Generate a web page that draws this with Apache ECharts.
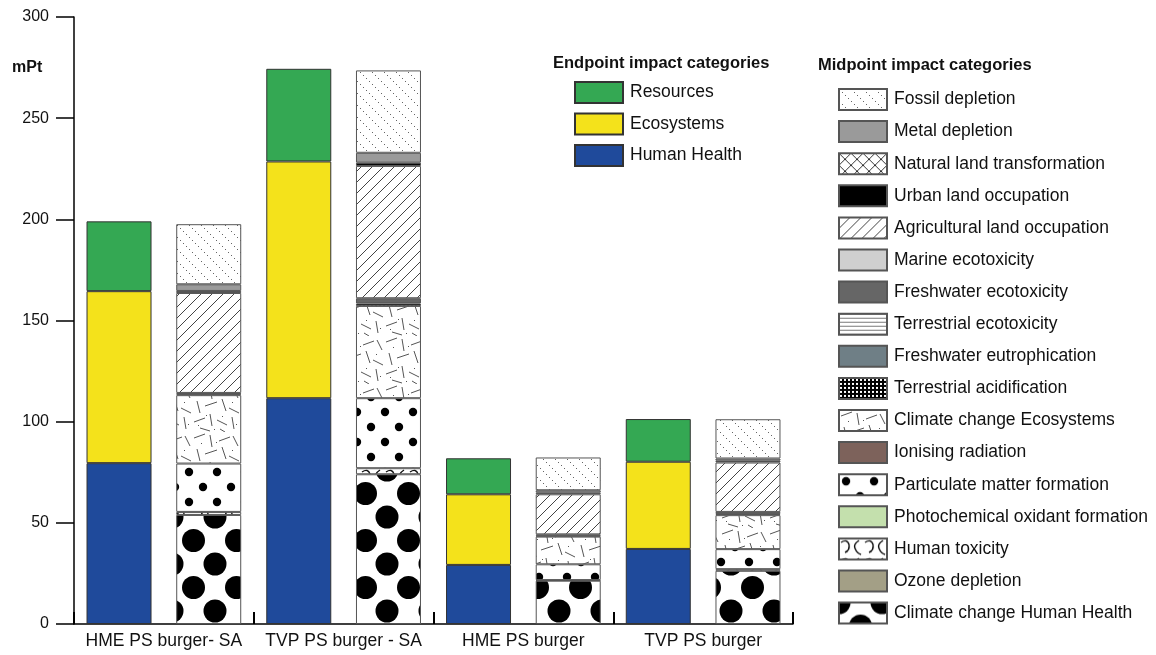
<!DOCTYPE html>
<html>
<head>
<meta charset="utf-8">
<title>Endpoint and midpoint impacts</title>
<script src="https://cdn.jsdelivr.net/npm/echarts@6/dist/echarts.min.js"></script>
<style>
  html, body { margin: 0; padding: 0; background: #fff; }
  #chart { width: 1156px; height: 655px; }
</style>
</head>
<body>
<div id="chart"></div>
<script>
// ---- data (mPt) ----
const categories = ['HME PS burger- SA', 'TVP PS burger - SA', 'HME PS burger', 'TVP PS burger'];
const yTicks = { min: 0, max: 300, interval: 50 };

// endpoint impact categories
const humanHealth = [79.5, 111.6, 29.2, 37.1];
const ecosystems  = [85.0, 117.0, 34.9, 43.1];
const resources   = [34.5, 45.8, 17.8, 21.1];

// midpoint impact categories
const fossilDepletion               = [29.7, 40.7, 16.2, 19.4];
const metalDepletion                = [3.3, 4.9, 1.2, 1.1];
const naturalLandTransformation     = [0, 0, 0, 0];
const urbanLandOccupation           = [1.0, 1.6, 0.8, 0.9];
const agriculturalLandOccupation    = [49.4, 65.4, 19.8, 24.4];
const marineEcotoxicity             = [0, 0, 0, 0];
const freshwaterEcotoxicity         = [0.6, 2.6, 0.7, 1.0];
const terrestrialEcotoxicity        = [0, 0, 0, 0];
const freshwaterEutrophication      = [0, 0, 0, 0];
const terrestrialAcidification      = [0.5, 1.2, 0.4, 0.6];
const climateChangeEcosystems       = [33.8, 45.6, 13.7, 16.8];
const ionisingRadiation             = [0, 0, 0, 0];
const particulateMatterFormation    = [23.9, 34.6, 7.8, 9.9];
const photochemicalOxidantFormation = [0, 0, 0, 0];
const humanToxicity                 = [1.5, 3.0, 0.3, 0.8];
const ozoneDepletion                = [0, 0, 0, 0];
const climateChangeHumanHealth      = [53.9, 74.0, 21.4, 26.3];

// ---- fill patterns ----
function tile(w, h, draw, bg) {
  const c = document.createElement('canvas');
  c.width = w; c.height = h;
  const ctx = c.getContext('2d');
  ctx.fillStyle = bg || '#fff';
  ctx.fillRect(0, 0, w, h);
  draw(ctx, w, h);
  return { image: c, repeat: 'repeat' };
}
function line(ctx, x1, y1, x2, y2) {
  ctx.beginPath(); ctx.moveTo(x1, y1); ctx.lineTo(x2, y2); ctx.stroke();
}
function disc(ctx, x, y, r, w, h) {
  // draw a disc wrapped across tile edges
  for (const dx of [-w, 0, w]) for (const dy of [-h, 0, h]) {
    ctx.beginPath(); ctx.arc(x + dx, y + dy, r, 0, Math.PI * 2); ctx.fill();
  }
}

const fills = {
  fossil: tile(12, 12, (ctx) => {
    ctx.fillStyle = '#666';
    for (let i = 0; i < 12; i += 3) ctx.fillRect(i, i, 1, 1);
  }),
  metal: '#9a9a9a',
  natural: tile(12, 12, (ctx) => {
    ctx.strokeStyle = '#333'; ctx.lineWidth = 1;
    line(ctx, 0, 0, 12, 12); line(ctx, 0, 12, 12, 0);
  }),
  urban: '#000',
  agri: tile(11, 11, (ctx) => {
    ctx.strokeStyle = '#444'; ctx.lineWidth = 1;
    line(ctx, -1, 12, 12, -1); line(ctx, -1, 1, 1, -1); line(ctx, 10, 12, 12, 10);
  }),
  marine: '#cfcfcf',
  freshEco: '#666',
  terrEco: tile(6, 4, (ctx) => {
    ctx.fillStyle = '#777'; ctx.fillRect(0, 0, 6, 1);
  }),
  freshEutro: '#6f7f86',
  terrAcid: tile(4, 4, (ctx) => {
    ctx.fillStyle = '#fff'; ctx.fillRect(1, 1, 2, 2);
  }, '#000'),
  ccEco: tile(48, 48, (ctx) => {
    ctx.strokeStyle = '#555'; ctx.lineWidth = 1;
    const strokes = [
      [2, 6, 13, 2], [18, 3, 20, 15], [27, 9, 38, 5], [41, 4, 46, 14],
      [5, 17, 8, 29], [13, 22, 25, 18], [30, 15, 34, 27], [37, 24, 47, 29],
      [2, 38, 13, 34], [18, 30, 20, 42], [25, 36, 35, 41], [40, 33, 42, 45],
      [8, 44, 18, 47], [28, 45, 33, 48]
    ];
    strokes.forEach(s => line(ctx, s[0], s[1], s[2], s[3]));
    ctx.fillStyle = '#555';
    [[9, 11], [24, 10], [40, 18], [14, 31], [30, 32], [6, 41], [22, 45], [44, 40]]
      .forEach(p => ctx.fillRect(p[0], p[1], 1, 1));
  }),
  ionising: '#7d625b',
  pm: tile(28, 30, (ctx, w, h) => {
    ctx.fillStyle = '#000';
    disc(ctx, 7, 7, 4.2, w, h);
    disc(ctx, 21, 22, 4.2, w, h);
  }),
  photo: '#c4e0ad',
  humanTox: tile(24, 18, (ctx) => {
    ctx.strokeStyle = '#111'; ctx.lineWidth = 1.4;
    ctx.beginPath(); ctx.moveTo(2, 4); ctx.quadraticCurveTo(8, 0, 10, 6); ctx.quadraticCurveTo(11, 12, 6, 14); ctx.stroke();
    ctx.beginPath(); ctx.moveTo(20, 2); ctx.quadraticCurveTo(14, 6, 16, 10); ctx.quadraticCurveTo(18, 15, 22, 16); ctx.stroke();
  }),
  ozone: '#a39f86',
  ccHH: tile(43, 47, (ctx, w, h) => {
    ctx.fillStyle = '#000';
    disc(ctx, 0, 0, 11.5, w, h);
    disc(ctx, 21.5, 23.5, 11.5, w, h);
  })
};

// midpoint categories listed top to bottom as in the key
const midpoint = [
  ['Fossil depletion', fossilDepletion, fills.fossil],
  ['Metal depletion', metalDepletion, fills.metal],
  ['Natural land transformation', naturalLandTransformation, fills.natural],
  ['Urban land occupation', urbanLandOccupation, fills.urban],
  ['Agricultural land occupation', agriculturalLandOccupation, fills.agri],
  ['Marine ecotoxicity', marineEcotoxicity, fills.marine],
  ['Freshwater ecotoxicity', freshwaterEcotoxicity, fills.freshEco],
  ['Terrestrial ecotoxicity', terrestrialEcotoxicity, fills.terrEco],
  ['Freshwater eutrophication', freshwaterEutrophication, fills.freshEutro],
  ['Terrestrial acidification', terrestrialAcidification, fills.terrAcid],
  ['Climate change Ecosystems', climateChangeEcosystems, fills.ccEco],
  ['Ionising radiation', ionisingRadiation, fills.ionising],
  ['Particulate matter formation', particulateMatterFormation, fills.pm],
  ['Photochemical oxidant formation', photochemicalOxidantFormation, fills.photo],
  ['Human toxicity', humanToxicity, fills.humanTox],
  ['Ozone depletion', ozoneDepletion, fills.ozone],
  ['Climate change Human Health', climateChangeHumanHealth, fills.ccHH]
];

// endpoint categories listed top to bottom as in the key
const endpoint = [
  ['Resources', resources, '#34a853'],
  ['Ecosystems', ecosystems, '#f4e21b'],
  ['Human Health', humanHealth, '#1f4a9b']
];

const FONT = 'Liberation Sans, Arial, sans-serif';
const BAR_W = 65;
const nz = arr => arr.map(v => (v === 0 ? null : v));

const series = [];
// endpoint stack, bottom to top
endpoint.slice().reverse().forEach(([name, data, color]) => {
  series.push({
    name, type: 'bar', stack: 'endpoint', barWidth: BAR_W, barGap: '38%',
    data: nz(data),
    itemStyle: { color, borderColor: '#333', borderWidth: 1 }
  });
});
// midpoint stack, bottom to top
midpoint.slice().reverse().forEach(([name, data, fill]) => {
  series.push({
    name, type: 'bar', stack: 'midpoint', barWidth: BAR_W, barGap: '38%',
    data: nz(data),
    itemStyle: { color: fill, borderColor: '#555', borderWidth: 1 }
  });
});

const legendText = { fontSize: 17.5, color: '#111', fontFamily: FONT, padding: [0, 0, 0, 2] };

const option = {
  animation: false,
  backgroundColor: '#fff',
  grid: { left: 74, right: 363, top: 17, bottom: 31, containLabel: false },
  xAxis: {
    type: 'category',
    data: categories,
    axisLine: { lineStyle: { color: '#000', width: 1.5 } },
    axisTick: { show: true, inside: true, length: 12, interval: 0, lineStyle: { color: '#000', width: 2 } },
    axisLabel: { interval: 0, fontSize: 17.5, color: '#111', fontFamily: FONT, margin: 8 }
  },
  yAxis: {
    type: 'value',
    min: yTicks.min, max: yTicks.max, interval: yTicks.interval,
    axisLine: { show: true, lineStyle: { color: '#000', width: 1.5 } },
    axisTick: { show: true, length: 18, lineStyle: { color: '#000', width: 1.5 } },
    axisLabel: { fontSize: 16, color: '#111', fontFamily: FONT, margin: 25 },
    splitLine: { show: false }
  },
  legend: [
    {
      orient: 'vertical', left: 574, top: 81, padding: 0,
      itemWidth: 48, itemHeight: 21, itemGap: 8.5, icon: 'rect',
      selectedMode: false,
      data: endpoint.map(e => e[0]),
      textStyle: legendText
    },
    {
      orient: 'vertical', left: 838, top: 88, padding: 0,
      itemWidth: 48, itemHeight: 21, itemGap: 9.1, icon: 'rect',
      selectedMode: false,
      data: midpoint.map(m => m[0]),
      textStyle: legendText
    }
  ],
  graphic: [
    { type: 'text', left: 12, top: 60, style: { text: 'mPt', font: 'bold 16px ' + FONT, fill: '#111' } },
    { type: 'text', left: 553, top: 55, style: { text: 'Endpoint impact categories', font: 'bold 16.5px ' + FONT, fill: '#111' } },
    { type: 'text', left: 818, top: 57, style: { text: 'Midpoint impact categories', font: 'bold 16.5px ' + FONT, fill: '#111' } }
  ],
  series
};

const chart = echarts.init(document.getElementById('chart'), null, { renderer: 'canvas' });
chart.setOption(option);
</script>
</body>
</html>
